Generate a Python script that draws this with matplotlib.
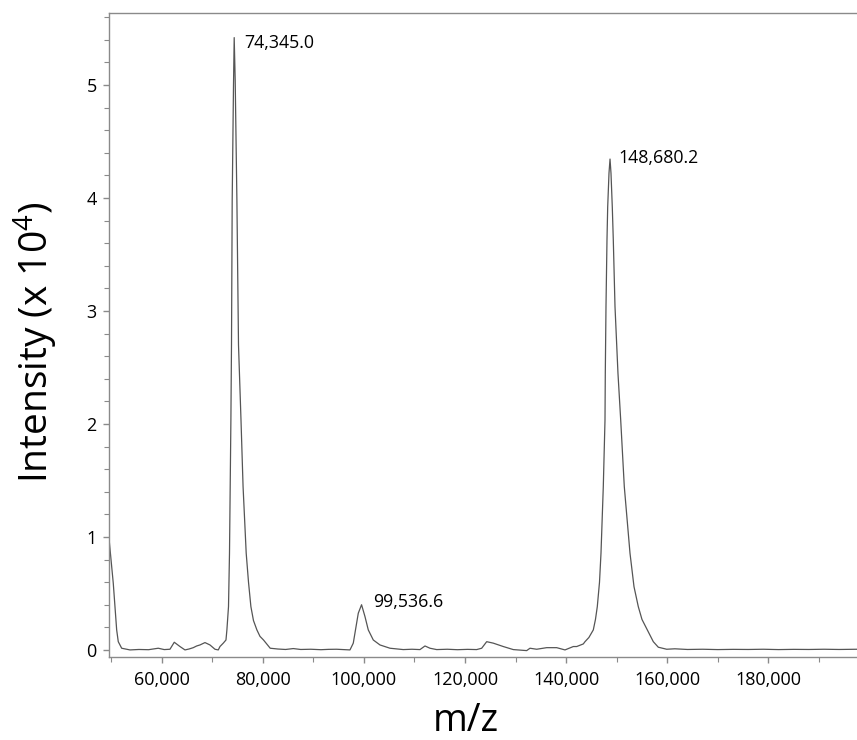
import matplotlib
matplotlib.use("Agg")
import matplotlib.pyplot as plt
from matplotlib.ticker import MultipleLocator, FuncFormatter

plt.rcParams['font.family'] = ['Open Sans', 'DejaVu Sans']
plt.rcParams['mathtext.fontset'] = 'custom'
plt.rcParams['mathtext.rm'] = 'Open Sans'
plt.rcParams['mathtext.it'] = 'Open Sans'

# Spectrum (m/z, intensity in units of 10^4)
mz = [49640, 49972, 50427, 50763, 51099, 51415, 52088, 53730, 55500, 57400,
      59327, 60500, 61642, 62492, 63620, 64609, 65400, 66250, 66923, 67576,
      68565, 69554, 70543, 71195, 71532, 72185, 72719, 72901, 73218, 73300,
      73415, 73554, 73692, 73811, 73949, 74207, 74345, 74543, 74879, 75196,
      75690, 76100, 76719, 77174, 77648, 78158, 78835, 79444, 80141, 81466,
      83000, 84500, 86031, 87500, 89500, 91500, 93000, 94615, 96000, 97245,
      97898, 98433, 98888, 99536.6, 100213, 100866, 101855, 103180, 105158, 107789,
      109500, 111090, 112081, 113070, 114395, 116500, 118500, 120500, 122300, 123296,
      124285, 125590, 127569, 129547, 132197, 132850, 134175, 136153, 138131, 139773,
      141421, 142087, 143393, 143730, 144500, 145371, 145800, 146162, 146600, 146894,
      147349, 147686, 147745, 147883, 148080, 148218, 148476, 148680.2, 148872, 149129,
      149327, 149664, 150250, 150792, 151504, 152631, 153422, 154273, 155000, 156053,
      157240, 158229, 159889, 161500, 164000, 167000, 170000, 173000, 176000, 179000,
      182000, 185000, 188000, 191000, 194000, 197530]
intensity = [0.96, 0.80, 0.59, 0.38, 0.177, 0.073, 0.015, 0.0, 0.004, 0.002,
             0.015, 0.003, 0.006, 0.068, 0.030, 0.0, 0.008, 0.020, 0.035, 0.044,
             0.065, 0.044, 0.006, 0.0, 0.030, 0.060, 0.088, 0.177, 0.383, 0.60,
             0.856, 1.445, 2.035, 2.70, 3.98, 5.00, 5.42, 5.04, 3.98, 2.70,
             2.035, 1.445, 0.856, 0.60, 0.383, 0.26, 0.177, 0.12, 0.088, 0.015,
             0.008, 0.004, 0.012, 0.004, 0.006, 0.002, 0.005, 0.006, 0.003, 0.0,
             0.060, 0.206, 0.325, 0.40, 0.295, 0.177, 0.088, 0.044, 0.015, 0.003,
             0.006, 0.003, 0.035, 0.015, 0.003, 0.006, 0.002, 0.005, 0.003, 0.015,
             0.073, 0.060, 0.030, 0.003, -0.006, 0.015, 0.006, 0.020, 0.020, 0.0,
             0.030, 0.030, 0.053, 0.073, 0.11, 0.177, 0.27, 0.383, 0.60, 0.856,
             1.445, 2.035, 2.45, 3.04, 3.63, 3.92, 4.22, 4.345, 4.22, 3.92,
             3.63, 3.04, 2.45, 2.035, 1.445, 0.856, 0.56, 0.383, 0.27, 0.177,
             0.073, 0.024, 0.006, 0.010, 0.004, 0.006, 0.003, 0.005, 0.004, 0.006,
             0.003, 0.005, 0.004, 0.006, 0.004, 0.006]

peak_mz = [74345.0, 99536.6, 148680.2]
peak_int = [5.42, 0.40, 4.345]
peak_labels = ["74,345.0", "99,536.6", "148,680.2"]
label_offsets = [(7, -4), (8, 2), (6, 1)]  # points

x_ticks = [60000, 80000, 100000, 120000, 140000, 160000, 180000]
y_ticks = [0, 1, 2, 3, 4, 5]

fig = plt.figure(figsize=(8.57, 7.40), dpi=100)
ax = fig.add_axes([0.1275, 0.1118, 0.8725, 0.8702])

pairs = sorted(zip(mz, intensity))
ax.plot([p[0] for p in pairs], [p[1] for p in pairs], color='#555555', lw=0.9)

for x, y, lab, off in zip(peak_mz, peak_int, peak_labels, label_offsets):
    ax.annotate(lab, (x, y), xytext=off, textcoords='offset points',
                ha='left', va='center', fontsize=12.8, color='black')

ax.set_xlim(49635, 197530)
ax.set_ylim(-0.065, 5.635)
ax.set_xticks(x_ticks)
ax.xaxis.set_minor_locator(MultipleLocator(10000))
ax.set_yticks(y_ticks)
ax.yaxis.set_minor_locator(MultipleLocator(0.2))
ax.xaxis.set_major_formatter(FuncFormatter(lambda v, p: f"{int(v):,}"))

for s in ['left', 'bottom', 'top']:
    ax.spines[s].set_color('#8a8a8a')
    ax.spines[s].set_linewidth(1.0)
ax.spines['right'].set_visible(False)

ax.tick_params(axis='both', which='both', direction='out', color='#8a8a8a',
               labelsize=13, labelcolor='black')
ax.tick_params(axis='both', which='major', length=4, width=1.0)
ax.tick_params(axis='both', which='minor', length=3.5, width=0.8)
ax.tick_params(axis='x', which='major', pad=6)
ax.tick_params(axis='y', which='major', pad=5)

fig.text(466 / 857, 1 - 731 / 740, "m/z", fontsize=27, ha='center', va='baseline')
fig.text(36 / 857, 1 - 342 / 740, "Intensity (x 10$^{4}$)", fontsize=28,
         rotation=90, ha='center', va='center')

fig.savefig("out.png", dpi=100)
